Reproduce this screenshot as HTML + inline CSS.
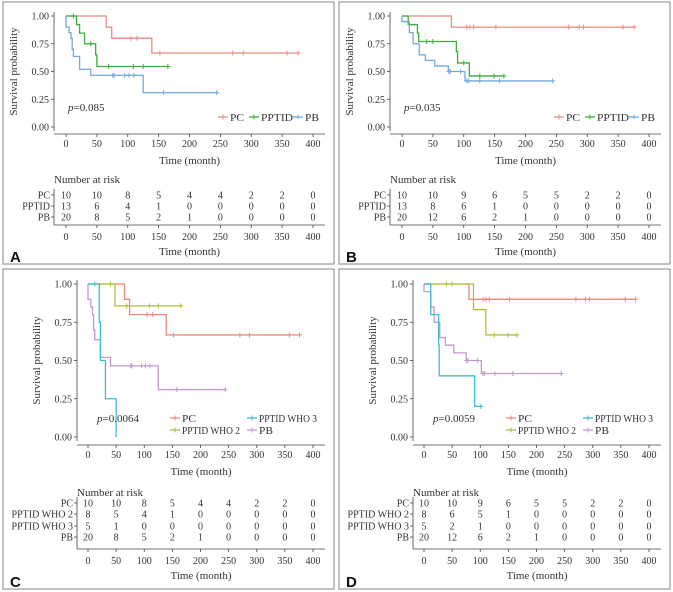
<!DOCTYPE html>
<html><head><meta charset="utf-8">
<style>
html,body{margin:0;padding:0;background:#fff;}
svg{display:block;font-family:"Liberation Serif",serif;}
</style></head>
<body>
<svg id="fig" width="673" height="592" viewBox="0 0 673 592" xmlns="http://www.w3.org/2000/svg"></svg>
<script>
// ---- data ----
const tickLabelsX = [0,50,100,150,200,250,300,350,400];
const tickLabelsY = [0,0.25,0.5,0.75,1];
const colPC='#ee8a80', colPPTID='#3aae3a', colPB='#74a9dc', colW2='#a6c43a', colW3='#3ebcd6', colPBp='#c29ace';

const pcA_steps = [[65,0.9],[74,0.8],[139,0.667]];
const pcA_cens = [105,115,152,270,287,358,376];
const pcA_end = 376;
const ppA_steps = [[17,0.923],[22,0.846],[30,0.75],[48,0.65],[50,0.545]];
const ppA_cens = [12,40,69,109,125,165];
const ppA_end = 165;
const pbA_steps = [[0,0.9],[5,0.85],[8,0.8],[10,0.7],[12,0.636],[22,0.52],[40,0.465],[125,0.31]];
const pbA_cens = [76,78,95,102,110,158,244];
const pbA_end = 244;

const pcB_steps = [[80,0.9]];
const pcB_cens = [105,110,116,152,270,287,294,358,376];
const pcB_end = 376;
const ppB_steps = [[10,0.923],[25,0.846],[27,0.77],[88,0.68],[90,0.577],[109,0.46]];
const ppB_cens = [40,50,100,126,149,165];
const ppB_end = 165;
const pbB_steps = [[0,0.95],[12,0.85],[18,0.75],[28,0.65],[38,0.6],[53,0.55],[75,0.5],[102,0.415]];
const pbB_cens = [76,78,95,105,108,126,158,244];
const pbB_end = 244;

const w2C_steps = [[48,0.857]];
const w2C_cens = [40,69,109,125,165];
const w2C_end = 165;
const w3C_steps = [[20,0.75],[22,0.5],[31,0.25],[50,0]];
const w3C_cens = [12];
const w3C_end = 50;

const w2D_steps = [[88,0.833],[110,0.667]];
const w2D_cens = [40,50,125,149,165];
const w2D_end = 165;
const w3D_steps = [[12,0.8],[26,0.6],[27,0.4],[90,0.2]];
const w3D_cens = [101];
const w3D_end = 101;

const riskA_PC = [10,10,8,5,4,4,2,2,0];
const riskA_PPTID = [13,6,4,1,0,0,0,0,0];
const riskA_PB = [20,8,5,2,1,0,0,0,0];
const riskB_PC = [10,10,9,6,5,5,2,2,0];
const riskB_PPTID = [13,8,6,1,0,0,0,0,0];
const riskB_PB = [20,12,6,2,1,0,0,0,0];
const riskC_PC = [10,10,8,5,4,4,2,2,0];
const riskC_W2 = [8,5,4,1,0,0,0,0,0];
const riskC_W3 = [5,1,0,0,0,0,0,0,0];
const riskC_PB = [20,8,5,2,1,0,0,0,0];
const riskD_PC = [10,10,9,6,5,5,2,2,0];
const riskD_W2 = [8,6,5,1,0,0,0,0,0];
const riskD_W3 = [5,2,1,0,0,0,0,0,0];
const riskD_PB = [20,12,6,2,1,0,0,0,0];

// ---- drawing ----
const svg=document.getElementById('fig');
const NS='http://www.w3.org/2000/svg';
function mk(tag,attrs,parent,text){const e=document.createElementNS(NS,tag);for(const k in attrs)e.setAttribute(k,attrs[k]);if(text!==undefined)e.textContent=text;(parent||svg).appendChild(e);return e;}

function panel(cfg){
  const g=mk('g',{transform:`translate(${cfg.dx},0)`});
  
  
  const fr=mk('rect',{x:3,y:cfg.top,width:331,height:cfg.bottom-cfg.top,fill:'none',stroke:'#9a9a9a','stroke-width':1.2},g);
  
  
  const X=t=>cfg.x0+(cfg.x400-cfg.x0)*t/400;
  const Y=s=>cfg.y0+(cfg.y1-cfg.y0)*s;
  mk('line',{x1:cfg.ax,y1:Y(1)-4,x2:cfg.ax,y2:Y(0)+4,stroke:'#444','stroke-width':0.8},g);
  tickLabelsY.forEach(v=>{
    mk('line',{x1:cfg.ax-3,y1:Y(v),x2:cfg.ax,y2:Y(v),stroke:'#444','stroke-width':0.8},g);
    const t=mk('text',{x:cfg.ax-5,y:Y(v)+3.5,'font-size':10,'text-anchor':'end',fill:'#333'},g,v.toFixed(2));
    
    
  });
  const yt=mk('text',{x:0,y:0,'font-size':11,'text-anchor':'middle',fill:'#333',transform:`translate(${cfg.ytx},${(Y(0)+Y(1))/2}) rotate(-90)`},g,'Survival probability');
  
  
  mk('line',{x1:cfg.ax,y1:cfg.xay,x2:325,y2:cfg.xay,stroke:'#444','stroke-width':0.8},g);
  tickLabelsX.forEach(v=>{
    mk('line',{x1:X(v),y1:cfg.xay,x2:X(v),y2:cfg.xay+3,stroke:'#444','stroke-width':0.8},g);
    const t=mk('text',{x:X(v),y:cfg.xay+13,'font-size':10,'text-anchor':'middle',fill:'#333'},g,v);
    
    
  });
  const xt=mk('text',{x:(cfg.ax+325)/2,y:cfg.xay+30,'font-size':11,'text-anchor':'middle',fill:'#333'},g,'Time (month)');
  
  
  cfg.series.forEach(s=>{
    let d=`M${X(0)},${Y(1)}`;
    s.steps.forEach(([t,v])=>{d+=` H${X(t)} V${Y(v)}`;});
    d+=` H${X(s.end)}`;
    const p=mk('path',{d:d,fill:'none',stroke:s.color,'stroke-width':1.3},g);
    
    
    s.cens.forEach(t=>{
      let v=1;s.steps.forEach(([tt,vv])=>{if(tt<=t)v=vv;});
      const c=mk('path',{d:`M${X(t)-2.5},${Y(v)} h5 M${X(t)},${Y(v)-2.5} v5`,stroke:s.color,'stroke-width':1},g);
      
      
    });
  });
  const pv=mk('text',{x:cfg.px,y:cfg.py,'font-size':11,fill:'#333'},g);
  
  
  mk('tspan',{'font-style':'italic'},pv,'p');mk('tspan',{},pv,'='+cfg.p);
  cfg.legend.forEach(l=>{
    const lg=mk('g',{},g);
    
    
    mk('line',{x1:l.x,y1:l.y,x2:l.x+10,y2:l.y,stroke:l.color,'stroke-width':1.3},lg);
    mk('line',{x1:l.x+5,y1:l.y-2.5,x2:l.x+5,y2:l.y+2.5,stroke:l.color,'stroke-width':1},lg);
    mk('text',{x:l.x+12,y:l.y+4,'font-size':11,fill:'#333',textLength:l.w,lengthAdjust:'spacingAndGlyphs'},lg,l.label);
  });
  const nr=mk('text',{x:cfg.ax,y:cfg.nry,'font-size':11,fill:'#333'},g,'Number at risk');
  
  
  mk('line',{x1:cfg.ax,y1:cfg.rowY[0]-6,x2:cfg.ax,y2:cfg.rxay,stroke:'#444','stroke-width':0.8},g);
  cfg.rows.forEach((r,i)=>{
    const y=cfg.rowY[i];
    mk('line',{x1:cfg.ax-3,y1:y,x2:cfg.ax,y2:y,stroke:'#444','stroke-width':0.8},g);
    const lb=mk('text',{x:cfg.ax-4,y:y+3.5,'font-size':10,'text-anchor':'end',fill:'#333'},g,r.label);
    
    
    r.vals.forEach((v,j)=>{
      const t=mk('text',{x:X(tickLabelsX[j]),y:y+3.5,'font-size':10,'text-anchor':'middle',fill:'#333'},g,v);
      
      
    });
  });
  mk('line',{x1:cfg.ax,y1:cfg.rxay,x2:325,y2:cfg.rxay,stroke:'#444','stroke-width':0.8},g);
  tickLabelsX.forEach(v=>{
    mk('line',{x1:X(v),y1:cfg.rxay,x2:X(v),y2:cfg.rxay+3,stroke:'#444','stroke-width':0.8},g);
    const t=mk('text',{x:X(v),y:cfg.rxay+15,'font-size':10,'text-anchor':'middle',fill:'#333'},g,v);
    
    
  });
  const rt=mk('text',{x:(cfg.ax+325)/2,y:cfg.rxay+30,'font-size':11,'text-anchor':'middle',fill:'#333'},g,'Time (month)');
  
  
  const L=mk('text',{x:10,y:cfg.bottom-2,'font-size':15,'font-weight':'bold','font-family':'Liberation Sans, sans-serif',fill:'#111'},g,cfg.letter);
  
  
}

const AB={top:2,bottom:264,ax:54,x0:66,x400:313,y1:16,y0:127,xay:134,ytx:17,px:68,py:111,nry:183,rowY:[195,206,217],rxay:225};
const CD={top:269,bottom:589,ax:77,x0:88,x400:313,y1:284,y0:437,xay:445,ytx:40,px:97,py:422,nry:496,rowY:[503,514,526,537],rxay:549};
const legAB=[{key:'pc',label:'PC',color:colPC,x:218,y:117,w:14},{key:'pptid',label:'PPTID',color:colPPTID,x:249,y:117,w:32},{key:'pb',label:'PB',color:colPB,x:293,y:117,w:14}];
const legCD=[{key:'pc',label:'PC',color:colPC,x:170,y:418,w:14},{key:'pptid-who2',label:'PPTID WHO 2',color:colW2,x:170,y:430,w:58},{key:'pptid-who3',label:'PPTID WHO 3',color:colW3,x:247,y:418,w:58},{key:'pb',label:'PB',color:colPBp,x:247,y:430,w:14}];

panel(Object.assign({},AB,{dx:0,letter:'A',p:'0.085',legend:legAB,
  series:[{key:'pc',color:colPC,steps:pcA_steps,cens:pcA_cens,end:pcA_end},{key:'pptid',color:colPPTID,steps:ppA_steps,cens:ppA_cens,end:ppA_end},{key:'pb',color:colPB,steps:pbA_steps,cens:pbA_cens,end:pbA_end}],
  rows:[{label:'PC',vals:riskA_PC},{label:'PPTID',vals:riskA_PPTID},{label:'PB',vals:riskA_PB}]}));
panel(Object.assign({},AB,{dx:336,letter:'B',p:'0.035',legend:legAB,
  series:[{key:'pc',color:colPC,steps:pcB_steps,cens:pcB_cens,end:pcB_end},{key:'pptid',color:colPPTID,steps:ppB_steps,cens:ppB_cens,end:ppB_end},{key:'pb',color:colPB,steps:pbB_steps,cens:pbB_cens,end:pbB_end}],
  rows:[{label:'PC',vals:riskB_PC},{label:'PPTID',vals:riskB_PPTID},{label:'PB',vals:riskB_PB}]}));
panel(Object.assign({},CD,{dx:0,letter:'C',p:'0.0064',legend:legCD,
  series:[{key:'pc',color:colPC,steps:pcA_steps,cens:pcA_cens,end:pcA_end},{key:'pptid-who2',color:colW2,steps:w2C_steps,cens:w2C_cens,end:w2C_end},{key:'pb',color:colPBp,steps:pbA_steps,cens:pbA_cens,end:pbA_end},{key:'pptid-who3',color:colW3,steps:w3C_steps,cens:w3C_cens,end:w3C_end}],
  rows:[{label:'PC',vals:riskC_PC},{label:'PPTID WHO 2',vals:riskC_W2},{label:'PPTID WHO 3',vals:riskC_W3},{label:'PB',vals:riskC_PB}]}));
panel(Object.assign({},CD,{dx:336,letter:'D',p:'0.0059',legend:legCD,
  series:[{key:'pc',color:colPC,steps:pcB_steps,cens:pcB_cens,end:pcB_end},{key:'pptid-who2',color:colW2,steps:w2D_steps,cens:w2D_cens,end:w2D_end},{key:'pb',color:colPBp,steps:pbB_steps,cens:pbB_cens,end:pbB_end},{key:'pptid-who3',color:colW3,steps:w3D_steps,cens:w3D_cens,end:w3D_end}],
  rows:[{label:'PC',vals:riskD_PC},{label:'PPTID WHO 2',vals:riskD_W2},{label:'PPTID WHO 3',vals:riskD_W3},{label:'PB',vals:riskD_PB}]}));
</script>
</body></html>
